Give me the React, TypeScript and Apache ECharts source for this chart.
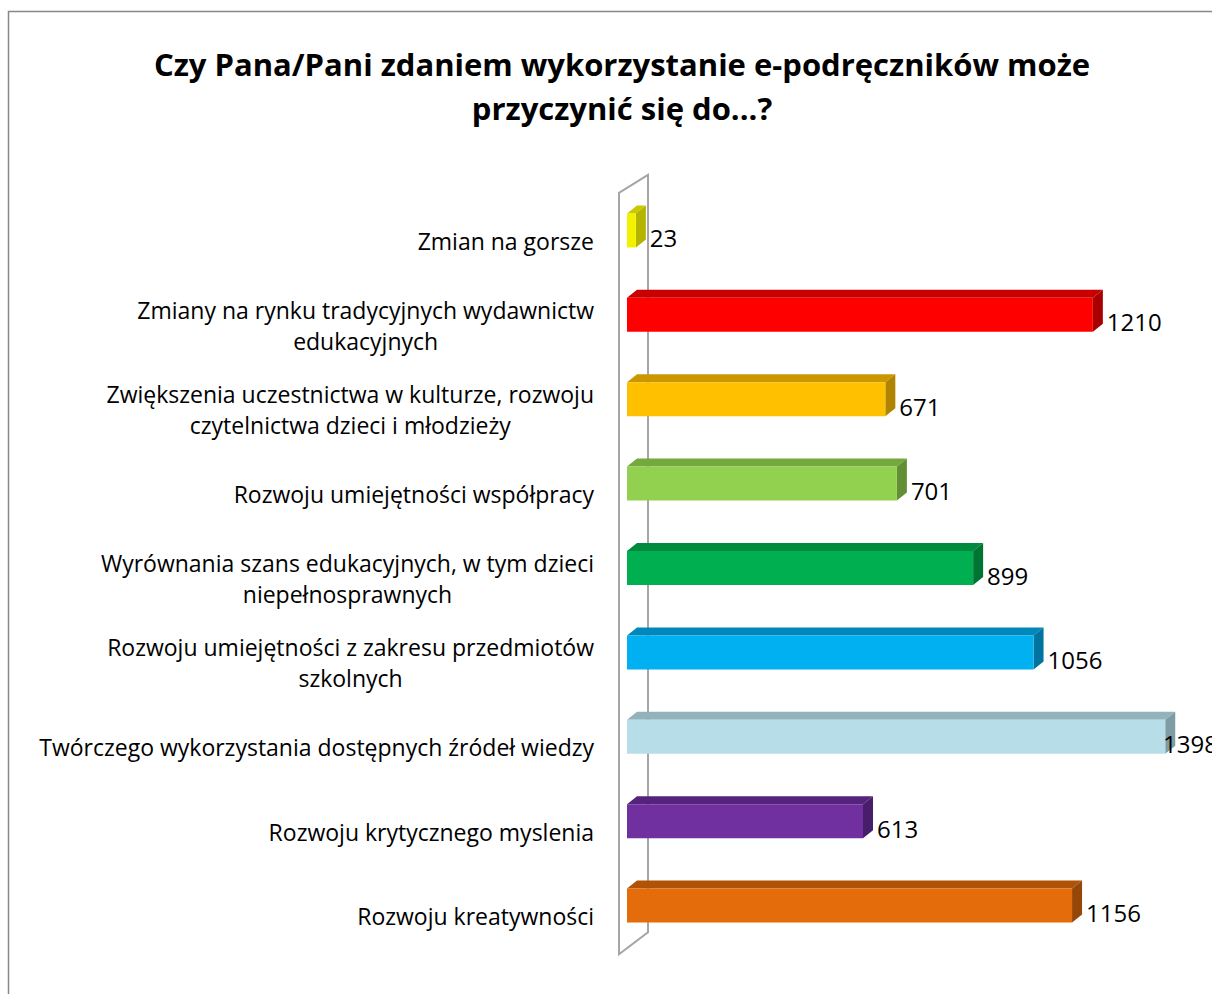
import React, { useEffect, useRef } from 'react';
import * as echarts from 'echarts';

const titleLines = ['Czy Pana/Pani zdaniem wykorzystanie e-podręczników może', 'przyczynić się do...?'];

const categories = [
  'Zmian na gorsze',
  'Zmiany na rynku tradycyjnych wydawnictw\nedukacyjnych',
  'Zwiększenia uczestnictwa w kulturze, rozwoju\nczytelnictwa dzieci i młodzieży',
  'Rozwoju umiejętności współpracy',
  'Wyrównania szans edukacyjnych, w tym dzieci\nniepełnosprawnych',
  'Rozwoju umiejętności z zakresu przedmiotów\nszkolnych',
  'Twórczego wykorzystania dostępnych źródeł wiedzy',
  'Rozwoju krytycznego myslenia',
  'Rozwoju kreatywności',
];

const values = [23, 1210, 671, 701, 899, 1056, 1398, 613, 1156];

const frontColors = ['#f2f200', '#ff0000', '#ffc000', '#92d050', '#00b050', '#00b0f0', '#b7dee8', '#7030a0', '#e46c0a'];
const topColors = ['#c9c900', '#c80000', '#c99700', '#73a93d', '#008a3d', '#0088bb', '#92b3bb', '#55227c', '#b05307'];
const sideColors = ['#b3b300', '#a80000', '#b08400', '#628f34', '#007433', '#00739f', '#7f9ba3', '#481d69', '#964606'];

const FONT = '"Open Sans", "Noto Sans", sans-serif';
const GRID_LEFT = 627;
const GRID_WIDTH = 539;
const GRID_TOP = 198.8;
const GRID_BOTTOM = 35.8;
const BAR_H = 34;
const DX = 10;
const DY = 8;
const FRONT_SHIFT = 10.5;
const LABEL_MAX_X = 1163;

export default function App() {
  const ref = useRef<HTMLDivElement>(null);

  useEffect(() => {
    if (!ref.current) return;
    const chart = echarts.init(ref.current, undefined, { renderer: 'svg' });
    const H = 994;
    const wallTop = GRID_TOP - 6;
    const wallBottom = H - GRID_BOTTOM - 4;
    chart.setOption({
      animation: false,
      backgroundColor: '#ffffff',
      title: {
        text: titleLines.join('\n'),
        left: 617,
        top: 37,
        textAlign: 'center',
        textStyle: {
          fontFamily: FONT,
          fontWeight: 'bold',
          fontSize: 31,
          lineHeight: 44,
          color: '#000000',
        },
      },
      graphic: [
        {
          type: 'rect',
          z: 0,
          silent: true,
          shape: { x: 8.5, y: 11.5, width: 1400, height: 1200 },
          style: { fill: 'none', stroke: '#878787', lineWidth: 1.5 },
        },
        {
          type: 'polygon',
          z: 0,
          silent: true,
          shape: {
            points: [
              [GRID_LEFT - 8, wallTop],
              [GRID_LEFT + 21, wallTop - 18],
              [GRID_LEFT + 21, wallBottom - 22],
              [GRID_LEFT - 8, wallBottom],
            ],
          },
          style: { fill: '#ffffff', stroke: '#a6a6a6', lineWidth: 2 },
        },
      ],
      grid: {
        left: GRID_LEFT,
        width: GRID_WIDTH,
        top: GRID_TOP,
        bottom: GRID_BOTTOM,
        containLabel: false,
      },
      xAxis: {
        type: 'value',
        min: 0,
        max: 1400,
        show: false,
      },
      yAxis: {
        type: 'category',
        inverse: true,
        data: categories,
        axisLine: { show: false },
        axisTick: { show: false },
        splitLine: { show: false },
        axisLabel: {
          margin: 33,
          align: 'right',
          formatter: (v: string) =>
            v
              .split('\n')
              .map((l) => `{c|${l}}`)
              .join('\n'),
          rich: {
            c: {
              align: 'center',
              fontFamily: FONT,
              fontSize: 23,
              lineHeight: 31,
              color: '#000000',
            },
          },
        },
      },
      series: [
        {
          type: 'custom',
          z: 5,
          clip: false,
          data: values.map((v, i) => [v, i]),
          renderItem: (params: any, api: any) => {
            const i = params.dataIndex;
            const v = api.value(0);
            const ci = api.value(1);
            const p0 = api.coord([0, ci]);
            const p1 = api.coord([v, ci]);
            const yc = p0[1] - FRONT_SHIFT;
            const yT = yc - BAR_H / 2;
            const yB = yc + BAR_H / 2;
            const x0 = p0[0];
            const x1 = p1[0];
            return {
              type: 'group',
              children: [
                {
                  type: 'polygon',
                  shape: { points: [[x0, yT], [x0 + DX, yT - DY], [x1 + DX, yT - DY], [x1, yT]] },
                  style: { fill: topColors[i] },
                },
                {
                  type: 'polygon',
                  shape: { points: [[x1, yT], [x1 + DX, yT - DY], [x1 + DX, yB - DY], [x1, yB]] },
                  style: { fill: sideColors[i] },
                },
                {
                  type: 'rect',
                  shape: { x: x0, y: yT, width: x1 - x0, height: BAR_H },
                  style: { fill: frontColors[i] },
                },
                {
                  type: 'text',
                  x: Math.min(x1 + DX + 4, LABEL_MAX_X),
                  y: yc + 7,
                  style: {
                    text: String(v),
                    fill: '#000000',
                    fontFamily: FONT,
                    fontSize: 24,
                    verticalAlign: 'middle',
                    align: 'left',
                  },
                },
              ],
            };
          },
        },
      ],
    });
    return () => chart.dispose();
  }, []);

  return (
    <div
      ref={ref}
      style={{ position: 'fixed', left: 0, top: 0, width: 1212, height: 994 }}
    />
  );
}
